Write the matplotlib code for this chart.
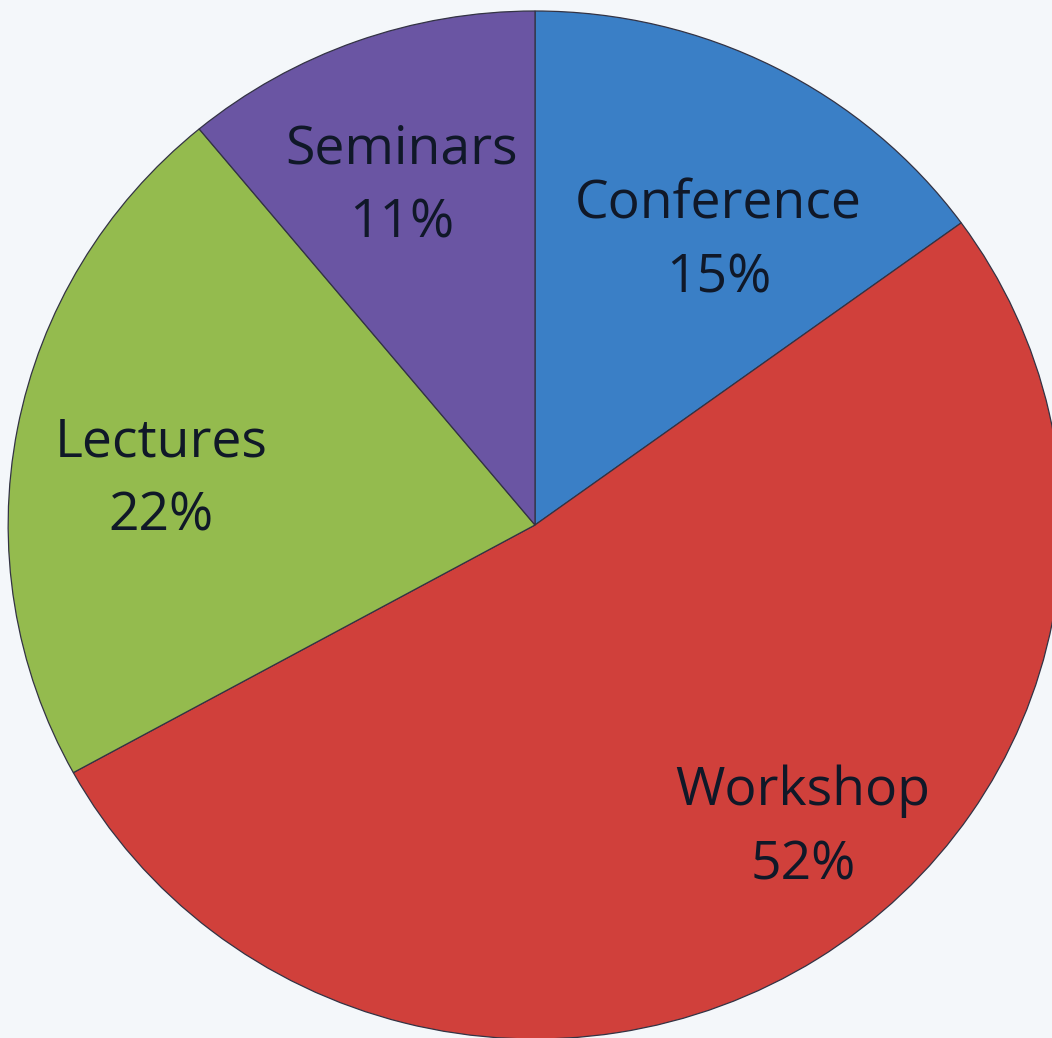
import numpy as np
import matplotlib.pyplot as plt

labels = ["Conference", "Workshop", "Lectures", "Seminars"]
shares = [15, 52, 22, 11]
colors = ["#3a7fc6", "#d0403b", "#94bb4e", "#6a55a3"]

# label placement (fraction of radius, angle tweak in degrees)
label_r = [0.652, 0.78, 0.715, 0.705]
label_dtheta = [-5.3, 8.3, 3.7, 1.3]

fig = plt.figure(figsize=(10.52, 10.38), dpi=100)
fig.patch.set_facecolor("#f4f7fa")
ax = fig.add_axes([0, 0, 1, 1])
ax.set_facecolor("#f4f7fa")

# source picture is a bit stretched sideways
sx = 1.025
cx, cy, R = 535 / sx, -525, 514
wedges, _ = ax.pie(shares, colors=colors, startangle=90, counterclock=False,
                   center=(cx, cy), radius=R,
                   wedgeprops=dict(edgecolor="#333344", linewidth=0.9))

for w, lab, s, fr, dt in zip(wedges, labels, shares, label_r, label_dtheta):
    th = np.deg2rad((w.theta1 + w.theta2) / 2 + dt)
    x = cx + fr * R * np.cos(th)
    y = cy + fr * R * np.sin(th)
    ax.text(x, y, f"{lab}\n{s}%", ha="center", va="center", fontsize=38.5,
            family="Open Sans", color="#101828", linespacing=1.52)

ax.set_xlim(0, 1052 / sx)
ax.set_ylim(-1038, 0)
ax.set_aspect("auto")
ax.axis("off")

fig.savefig("out.png", dpi=100, facecolor=fig.get_facecolor())
